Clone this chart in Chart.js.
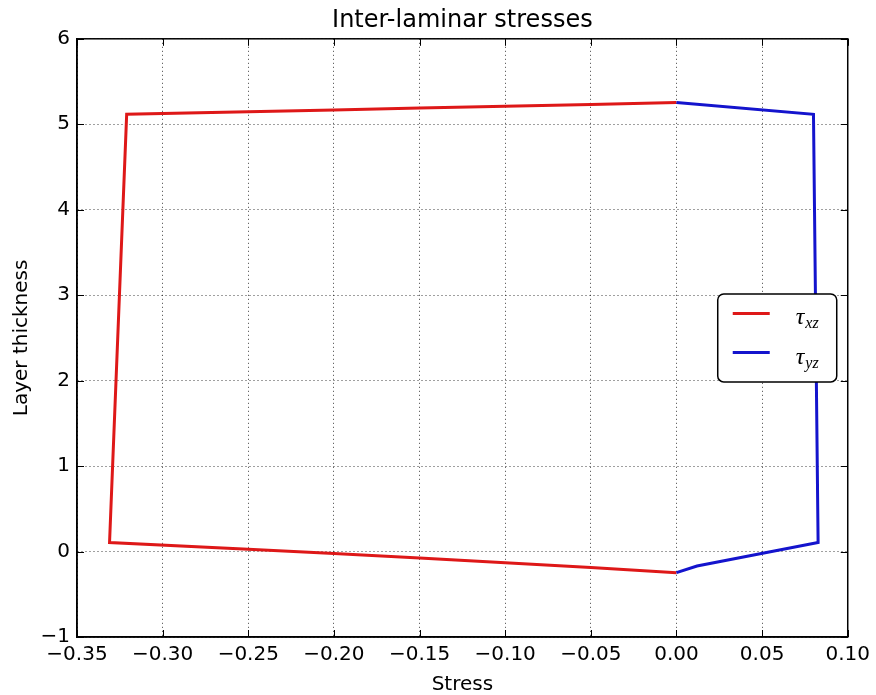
<!DOCTYPE html>
<html>
<head>
<meta charset="utf-8">
<script src="https://cdn.jsdelivr.net/npm/chart.js@4/dist/chart.umd.min.js"></script>
<style>
  html, body { margin: 0; padding: 0; background: #fff; }
  #wrap { width: 876px; height: 695px; }
</style>
</head>
<body>
<div id="wrap"><canvas id="myChart" width="876" height="695"></canvas></div>
<script>
// tau_xz through the laminate (stress, thickness)
var txzStress = [0.000, -0.050, -0.100, -0.150, -0.200, -0.250, -0.321, -0.331, -0.250, -0.200, -0.150, -0.100, -0.050, 0.000];
var txzDepth  = [5.255, 5.232, 5.211, 5.190, 5.166, 5.146, 5.116, 0.105, 0.026, -0.024, -0.076, -0.130, -0.187, -0.247];

// tau_yz through the laminate
var tyzStress = [0.000, 0.080, 0.0827, 0.012, 0.000];
var tyzDepth  = [5.255, 5.116, 0.105, -0.170, -0.247];

var seriesSymbols = ['\u03c4', '\u03c4'];
var seriesSubs = ['xz', 'yz'];

var xTicks = [-0.35, -0.30, -0.25, -0.20, -0.15, -0.10, -0.05, 0.00, 0.05, 0.10];
var yTicks = [-1, 0, 1, 2, 3, 4, 5, 6];

function toPoints(xs, ys) {
    var pts = [];
    for (var i = 0; i < xs.length; i++) pts.push({x: xs[i], y: ys[i]});
    return pts;
}

function minus(s) { return s.replace('-', '\u2212'); }

// frame, inward tick marks and the boxed legend
var framePlugin = {
    id: 'frame',
    afterDraw: function (chart) {
        var ctx = chart.ctx, a = chart.chartArea;
        var xs = chart.scales.x, ys = chart.scales.y;
        ctx.save();
        ctx.strokeStyle = '#000';
        ctx.lineWidth = 1;
        var tl = 7;
        xTicks.forEach(function (v) {
            var px = Math.round(xs.getPixelForValue(v)) + 0.5;
            ctx.beginPath();
            ctx.moveTo(px, a.bottom); ctx.lineTo(px, a.bottom - tl);
            ctx.moveTo(px, a.top); ctx.lineTo(px, a.top + tl);
            ctx.stroke();
        });
        yTicks.forEach(function (v) {
            var py = Math.round(ys.getPixelForValue(v)) + 0.5;
            ctx.beginPath();
            ctx.moveTo(a.left, py); ctx.lineTo(a.left + tl, py);
            ctx.moveTo(a.right, py); ctx.lineTo(a.right - tl, py);
            ctx.stroke();
        });
        ctx.lineWidth = 1.5;
        ctx.strokeRect(a.left, a.top, a.right - a.left, a.bottom - a.top);

        // legend, centre right
        var w = 119, h = 88, r = 6;
        var L = a.right - 11 - w, T = (a.top + a.bottom) / 2 - h / 2;
        ctx.beginPath();
        ctx.moveTo(L + r, T);
        ctx.arcTo(L + w, T, L + w, T + h, r);
        ctx.arcTo(L + w, T + h, L, T + h, r);
        ctx.arcTo(L, T + h, L, T, r);
        ctx.arcTo(L, T, L + w, T, r);
        ctx.closePath();
        ctx.fillStyle = '#fff';
        ctx.fill();
        ctx.lineWidth = 1.5;
        ctx.strokeStyle = '#000';
        ctx.stroke();

        var rows = [19.5, 58.7];
        chart.data.datasets.forEach(function (ds, i) {
            var y = T + rows[i];
            ctx.strokeStyle = ds.borderColor;
            ctx.lineWidth = 3;
            ctx.beginPath();
            ctx.moveTo(L + 15, y); ctx.lineTo(L + 52, y);
            ctx.stroke();
            ctx.fillStyle = '#000';
            ctx.textBaseline = 'alphabetic';
            ctx.textAlign = 'left';
            ctx.font = 'italic 24px "Liberation Serif"';
            ctx.fillText(seriesSymbols[i], L + 78, y + 11);
            var tw = ctx.measureText(seriesSymbols[i]).width;
            ctx.font = 'italic 16px "Liberation Serif"';
            ctx.fillText(seriesSubs[i], L + 78 + tw + 1, y + 15);
        });
        ctx.restore();
    }
};

window.onload = function () {
    var ctx = document.getElementById('myChart').getContext('2d');
    Chart.defaults.font.family = '"DejaVu Sans"';
    Chart.defaults.color = '#000';

    const myChart = new Chart(ctx, {
        type: 'scatter',
        data: {
            datasets: [{
                label: '\u03c4xz',
                data: toPoints(txzStress, txzDepth),
                showLine: true,
                borderColor: 'rgb(222, 24, 24)',
                backgroundColor: 'rgb(222, 24, 24)',
                borderWidth: 3,
                pointRadius: 0,
                borderJoinStyle: 'miter',
                order: 2
            },
            {
                label: '\u03c4yz',
                data: toPoints(tyzStress, tyzDepth),
                showLine: true,
                borderColor: 'rgb(20, 20, 205)',
                backgroundColor: 'rgb(20, 20, 205)',
                borderWidth: 3,
                pointRadius: 0,
                borderJoinStyle: 'miter',
                order: 1
            }]
        },
        options: {
            responsive: false,
            animation: false,
            layout: {
                padding: {left: 0, right: 25, top: 0, bottom: 0}
            },
            plugins: {
                legend: { display: false },
                tooltip: { enabled: false },
                title: {
                    display: true,
                    text: 'Inter-laminar stresses',
                    fullSize: false,
                    font: { size: 24, weight: 'normal' },
                    padding: { top: 6, bottom: 4 }
                }
            },
            scales: {
                x: {
                    type: 'linear',
                    min: -0.35,
                    max: 0.10,
                    afterFit: function (s) { s.height = 58; },
                    afterBuildTicks: function (s) {
                        s.ticks = xTicks.map(function (v) { return {value: v}; });
                    },
                    ticks: {
                        font: { size: 20 },
                        padding: 6,
                        maxRotation: 0,
                        autoSkip: false,
                        callback: function (value) {
                            if (Math.abs(value) < 1e-9) value = 0;
                            return minus(value.toFixed(2));
                        }
                    },
                    grid: {
                        color: 'rgba(0,0,0,0.75)',
                        lineWidth: 1,
                        drawTicks: false
                    },
                    border: { display: true, color: '#000', width: 1.5, dash: [1, 3] },
                    title: {
                        display: true,
                        text: 'Stress',
                        font: { size: 20, lineHeight: 1.0 },
                        padding: { top: 0, bottom: 0 }
                    }
                },
                y: {
                    type: 'linear',
                    min: -1,
                    max: 6,
                    afterFit: function (s) { s.width = 77; },
                    afterBuildTicks: function (s) {
                        s.ticks = yTicks.map(function (v) { return {value: v}; });
                    },
                    ticks: {
                        font: { size: 20 },
                        padding: 7,
                        autoSkip: false,
                        callback: function (value) {
                            return minus(String(value));
                        }
                    },
                    grid: {
                        color: 'rgba(0,0,0,0.75)',
                        lineWidth: 1,
                        drawTicks: false
                    },
                    border: { display: true, color: '#000', width: 1.5, dash: [1, 3] },
                    title: {
                        display: true,
                        text: 'Layer thickness',
                        font: { size: 20 },
                        padding: { top: 10, bottom: 0 }
                    }
                }
            }
        },
        plugins: [framePlugin]
    });
};
</script>
</body>
</html>
